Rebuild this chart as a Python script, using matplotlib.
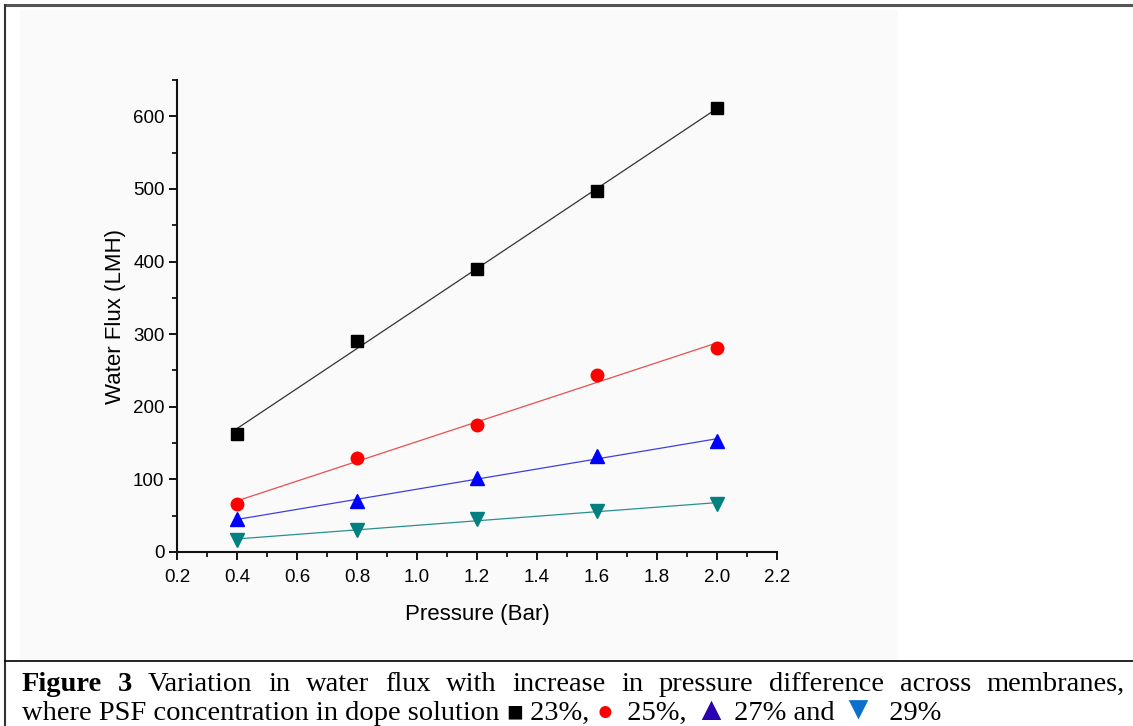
import numpy as np
import matplotlib
matplotlib.use("Agg")
import matplotlib.pyplot as plt
from matplotlib.lines import Line2D
from matplotlib.patches import Rectangle
from matplotlib.ticker import MultipleLocator

# data
pressure = [0.4, 0.8, 1.2, 1.6, 2.0]
flux_23 = [163, 291, 390, 497, 611]
flux_25 = [66, 130, 175, 244, 281]
flux_27 = [45, 70, 102, 132, 153]
flux_29 = [17, 30, 45, 57, 66]

x_ticks = [0.2, 0.4, 0.6, 0.8, 1.0, 1.2, 1.4, 1.6, 1.8, 2.0, 2.2]
y_ticks = [0, 100, 200, 300, 400, 500, 600]

W, H = 1133, 726
fig = plt.figure(figsize=(W / 100, H / 100), dpi=100)
fig.patch.set_facecolor("white")

def fx(px):
	return px / W

def fy(py):
	return 1 - py / H

# faint grey panel behind the graph (scanned look)
fig.add_artist(Rectangle((fx(20), fy(660)), fx(898) - fx(20), fy(10) - fy(660),
	transform=fig.transFigure, facecolor="#fafafa", edgecolor="none", zorder=0))

# table borders
fig.add_artist(Line2D([fx(5), 1], [fy(5), fy(5)], color="#555555", lw=2.2))
fig.add_artist(Line2D([fx(5), fx(5)], [fy(5), 0], color="#333333", lw=1.5))
fig.add_artist(Line2D([fx(5), 1], [fy(661), fy(661)], color="black", lw=1.2))

ax = fig.add_axes([fx(177), fy(552), fx(777) - fx(177), fy(80) - fy(552)])
ax.set_facecolor("none")

series = [
	(flux_23, "black", "#333333", "s", 8),
	(flux_25, "#ff0000", "#e85050", "o", 9),
	(flux_27, "#0000ff", "#4040e0", "^", 10),
	(flux_29, "#008080", "#2a9090", "v", 10),
]
xs = np.array(pressure)
for vals, mc, lc, mk, ms in series:
	k, b = np.polyfit(xs, vals, 1)
	ax.plot(xs, k * xs + b, color=lc, lw=0.9, zorder=2)
	ax.plot(xs, vals, linestyle="none", marker=mk, ms=ms, color=mc, zorder=3)

ax.set_xlim(0.2, 2.2)
ax.set_ylim(0, 650)
ax.set_xticks(x_ticks)
ax.set_xticklabels(["%.1f" % v for v in x_ticks])
ax.set_yticks(y_ticks)
ax.xaxis.set_minor_locator(MultipleLocator(0.1))
ax.yaxis.set_minor_locator(MultipleLocator(50))

for s in ["top", "right"]:
	ax.spines[s].set_visible(False)
for s in ["left", "bottom"]:
	ax.spines[s].set_linewidth(1.5)
	ax.spines[s].set_color("#111111")

ax.tick_params(which="major", direction="out", length=6, width=1.3, labelsize=13.5, pad=3)
ax.tick_params(axis="x", which="major", pad=6)
ax.tick_params(which="minor", direction="out", length=3.5, width=1.2)
for lab in ax.get_xticklabels() + ax.get_yticklabels():
	lab.set_fontfamily("Liberation Sans")

ax.set_xlabel("Pressure (Bar)", fontsize=16, fontfamily="Liberation Sans", labelpad=13)
ax.set_ylabel("Water Flux (LMH)", fontsize=16, fontfamily="Liberation Sans", labelpad=5)

# caption
fig.canvas.draw()
renderer = fig.canvas.get_renderer()
cap_size = 20.5
serif = ["Liberation Serif", "DejaVu Sans"]

def text_width(t):
	bb = t.get_window_extent(renderer=renderer)
	return bb.width

line1 = [("Figure", "bold"), ("3", "bold")] + [(w, "normal") for w in
	"Variation in water flux with increase in pressure difference across membranes,".split()]
x0, x1 = 22, 1125
objs = []
for word, wt in line1:
	t = fig.text(0, fy(691), word, fontsize=cap_size, fontweight=wt, family=serif, va="baseline")
	objs.append(t)
widths = [text_width(t) for t in objs]
gap = (x1 - x0 - sum(widths)) / (len(objs) - 1)
xpos = x0
for t, w in zip(objs, widths):
	t.set_x(fx(xpos))
	xpos += w + gap

line2 = [
	("where PSF concentration in dope solution ", "black", cap_size),
	("\u25a0", "black", 20),
	(" 23%, ", "black", cap_size),
	("\u25cf", "#ff0000", 20),
	("  25%, ", "black", cap_size),
	("\u25b2", "#2a00b0", 24),
	(" 27% and ", "black", cap_size),
	("\u25bc", "#0b6fcc", 24),
	("  29%", "black", cap_size),
]
xpos = x0
for piece, col, sz in line2:
	t = fig.text(fx(xpos), fy(720), piece, fontsize=sz, color=col, family=serif, va="baseline")
	xpos += text_width(t)

fig.savefig("out.png", dpi=100, facecolor="white")
